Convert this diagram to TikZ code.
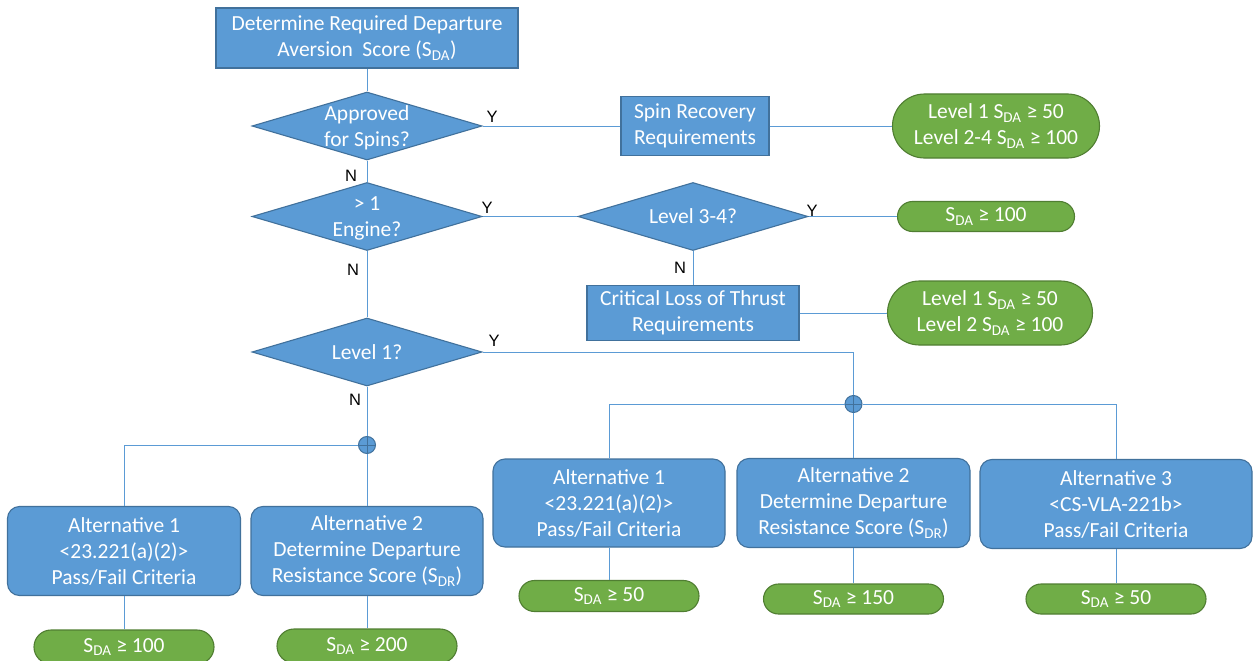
\documentclass[tikz,border=0pt]{standalone}
\usepackage{fontspec}
\setmainfont{Carlito}
\newfontfamily\labfont{Liberation Sans}
\usetikzlibrary{shapes.geometric,shapes.misc}
\definecolor{bfill}{HTML}{5B9BD5}
\definecolor{bdraw}{HTML}{41719C}
\definecolor{gfill}{HTML}{70AD47}
\definecolor{gdraw}{HTML}{507E32}
\newcommand{\sda}{S\textsubscript{DA}}
\newcommand{\sdr}{S\textsubscript{DR}}
\tikzset{
  txt/.style={text=white, align=center, font=\fontsize{21.5}{26}\selectfont},
  box/.style={txt, rectangle, draw=bdraw, fill=bfill, line width=1.1pt, inner sep=0pt},
  rbox/.style={box, rounded corners=12pt},
  dia/.style={diamond, draw=bdraw, fill=bfill, line width=1.1pt, inner sep=0pt, minimum width=230pt, minimum height=68pt},
  pill/.style={txt, rounded rectangle, draw=gdraw, fill=gfill, line width=1.1pt, inner sep=0pt},
  conn/.style={draw=bfill, line width=0.9pt},
  yn/.style={font=\labfont\fontsize{16.5}{16.5}\selectfont, text=black, inner sep=0pt},
  junc/.style={circle, draw=bdraw, fill=bfill, line width=1pt, minimum size=17pt, inner sep=0pt,
    path picture={\draw[bdraw, line width=0.9pt] (path picture bounding box.north) -- (path picture bounding box.south)
      (path picture bounding box.west) -- (path picture bounding box.east);}}
}
\begin{document}
\begin{tikzpicture}[x=1pt,y=-1pt]
\useasboundingbox (0,0) rectangle (1254,661);
\fill[white] (0,0) rectangle (1254,661);

% nodes
\node[box, minimum width=302pt, minimum height=60pt] (top) at (367,38) {Determine Required Departure\\Aversion\ \ Score (\sda)};
\node[dia] (d1) at (367,126) {};
\node[txt] (t1) at ([yshift=-2pt]d1) {Approved\\for Spins?};
\node[box, minimum width=148pt, minimum height=59pt] (spin) at (695,126) {Spin Recovery\\Requirements};
\node[pill, minimum width=207pt, minimum height=64pt] (p1) at (996,126) {Level 1 \sda{} ≥ 50\\Level 2-4 \sda{} ≥ 100};

\node[dia] (d2) at (367,216.5) {};
\node[txt] (t2) at ([yshift=-2pt]d2) {> 1\\Engine?};
\node[dia] (d3) at (693,216.5) {};
\node[txt] (t3) at (d3) {Level 3-4?};
\node[pill, minimum width=177pt, minimum height=30pt] (p2) at (986,216.5) {\sda{} ≥ 100};
\node[box, minimum width=212pt, minimum height=55pt] (crit) at (693,313) {Critical Loss of Thrust\\Requirements};
\node[pill, minimum width=205pt, minimum height=64pt] (p3) at (990,313) {Level 1 \sda{} ≥ 50\\Level 2 \sda{} ≥ 100};

\node[dia] (d4) at (367,352) {};
\node[txt] (t4) at (d4) {Level 1?};

\node[junc] (jL) at (367,445) {};
\node[junc] (jR) at (853.5,404) {};

\node[rbox, minimum width=233pt, minimum height=89pt] (L1) at (124,551) {Alternative 1\\<23.221(a)(2)>\\Pass/Fail Criteria};
\node[rbox, minimum width=232pt, minimum height=89pt] (L2) at (367,551) {Alternative 2\\Determine Departure\\Resistance Score (\sdr)};
\node[pill, minimum width=180pt, minimum height=34pt] (Lp1) at (124,647) {\sda{} ≥ 100};
\node[pill, minimum width=180pt, minimum height=34pt] (Lp2) at (367,646) {\sda{} ≥ 200};

\node[rbox, minimum width=232pt, minimum height=88pt] (R1) at (609,503) {Alternative 1\\<23.221(a)(2)>\\Pass/Fail Criteria};
\node[rbox, minimum width=233pt, minimum height=89pt] (R2) at (853.5,503) {Alternative 2\\Determine Departure\\Resistance Score (\sdr)};
\node[rbox, minimum width=272pt, minimum height=89pt] (R3) at (1116,504) {Alternative 3\\<CS-VLA-221b>\\Pass/Fail Criteria};
\node[pill, minimum width=180pt, minimum height=31pt] (Rp1) at (609,596) {\sda{} ≥ 50};
\node[pill, minimum width=180pt, minimum height=30pt] (Rp2) at (853.5,599) {\sda{} ≥ 150};
\node[pill, minimum width=180pt, minimum height=30pt] (Rp3) at (1116,599) {\sda{} ≥ 50};

% connectors
\draw[conn] (top.south) -- (d1.north);
\draw[conn] (d1.east) -- (spin.west);
\draw[conn] (spin.east) -- (p1.west);
\draw[conn] (d1.south) -- (d2.north);
\draw[conn] (d2.east) -- (d3.west);
\draw[conn] (d3.east) -- (p2.west);
\draw[conn] (d3.south) -- (crit.north);
\draw[conn] (crit.east) -- (p3.west);
\draw[conn] (d2.south) -- (d4.north);
\draw[conn] (d4.south) -- (jL.north);
\draw[conn] (jL.south) -- (L2.north);
\draw[conn] (jL.west) -| (L1.north);
\draw[conn] (L1.south) -- (Lp1.north);
\draw[conn] (L2.south) -- (Lp2.north);
\draw[conn] (d4.east) -| (jR.north);
\draw[conn] (jR.west) -| (R1.north);
\draw[conn] (jR.east) -| (R3.north);
\draw[conn] (jR.south) -- (R2.north);
\draw[conn] (R1.south) -- (Rp1.north);
\draw[conn] (R2.south) -- (Rp2.north);
\draw[conn] (R3.south) -- (Rp3.north);

% labels
\node[yn] (y1) at (492,117) {Y};
\node[yn] (n1) at (351,176) {N};
\node[yn] (y2) at (487,208) {Y};
\node[yn] (y3) at (812,211) {Y};
\node[yn] (n3) at (680,268) {N};
\node[yn] (n2) at (353,270) {N};
\node[yn] (y4) at (494,341) {Y};
\node[yn] (n4) at (355,400) {N};
\end{tikzpicture}
\end{document}
